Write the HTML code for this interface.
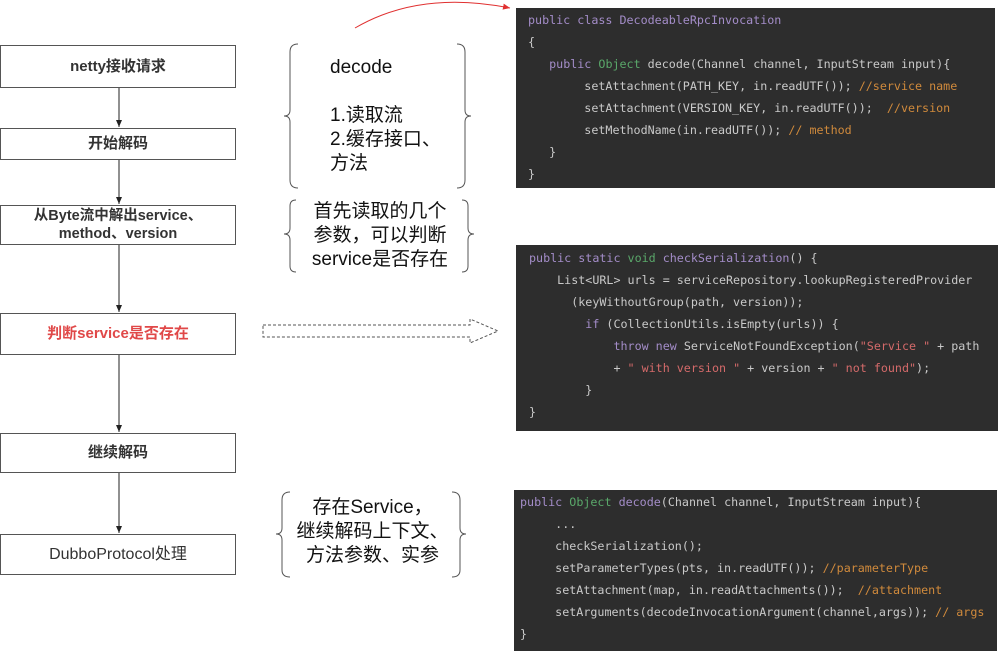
<!DOCTYPE html>
<html><head><meta charset="utf-8"><style>
body{margin:0;width:1000px;height:653px;background:#fff;position:relative;overflow:hidden;font-family:"Liberation Sans","Noto Sans CJK SC",sans-serif}
.box{position:absolute;left:0;width:236px;border:1px solid #555;box-sizing:border-box;display:flex;align-items:center;justify-content:center;text-align:center;font-size:15px;font-weight:bold;color:#333;line-height:18px;background:#fff}
.code{position:absolute;background:#2d2d2d;font-family:"DejaVu Sans Mono","Liberation Mono",monospace;font-size:11.7px;color:#c9c9c9;white-space:pre;line-height:22px;box-sizing:border-box;overflow:hidden}
.k{color:#a48dc9}.g{color:#5aa86a}.o{color:#d08a3c}.s{color:#d46a6a}
.t{position:absolute;font-size:19px;color:#111;line-height:24px}
</style></head><body>
<svg width="1000" height="653" style="position:absolute;left:0;top:0">
<defs><marker id="a" markerWidth="8" markerHeight="8" refX="7" refY="4" orient="auto"><path d="M0,1 L7,4 L0,7 Z" fill="#222"/></marker>
<marker id="r" markerWidth="8" markerHeight="8" refX="7" refY="4" orient="auto"><path d="M0,1 L7,4 L0,7 Z" fill="#e03030"/></marker></defs>
<g stroke="#222" stroke-width="1" marker-end="url(#a)">
<line x1="119" y1="88" x2="119" y2="127"/><line x1="119" y1="160" x2="119" y2="204"/>
<line x1="119" y1="245" x2="119" y2="312"/><line x1="119" y1="355" x2="119" y2="432"/>
<line x1="119" y1="473" x2="119" y2="533"/></g>
<path d="M355,28 Q420,-10 510,8" stroke="#e03030" fill="none" stroke-width="1" marker-end="url(#r)"/>
<path d="M263,325 H470 V319 L498,331 L470,343 V337 H263 Z" fill="none" stroke="#555" stroke-dasharray="3,2"/>
<g stroke="#555" fill="none" stroke-width="1">
<path d="M298,44 Q290,44 290,52 V110 Q290,116 284,116 Q290,116 290,122 V180 Q290,188 298,188"/>
<path d="M457,44 Q465,44 465,52 V110 Q465,116 471,116 Q465,116 465,122 V180 Q465,188 457,188"/>
<path d="M296,200 Q290,200 290,206 V228 Q290,234 284,234 Q290,234 290,240 V266 Q290,272 296,272"/>
<path d="M462,200 Q468,200 468,206 V228 Q468,234 474,234 Q468,234 468,240 V266 Q468,272 462,272"/>
<path d="M290,492 Q282,492 282,500 V528 Q282,534 276,534 Q282,534 282,540 V570 Q282,577 290,577"/>
<path d="M452,492 Q460,492 460,500 V528 Q460,534 466,534 Q460,534 460,540 V570 Q460,577 452,577"/>
</g></svg>
<div class="box" style="top:45px;height:43px">netty接收请求</div>
<div class="box" style="top:128px;height:32px">开始解码</div>
<div class="box" style="top:205px;height:40px;font-size:14.5px">从Byte流中解出service、<br>method、version</div>
<div class="box" style="top:313px;height:42px;color:#e04848">判断service是否存在</div>
<div class="box" style="top:433px;height:40px">继续解码</div>
<div class="box" style="top:534px;height:41px;font-weight:normal;font-size:16px">DubboProtocol处理</div>
<div class="t" style="left:330px;top:56px">decode</div>
<div class="t" style="left:330px;top:104px">1.读取流<br>2.缓存接口、<br>方法</div>
<div class="t" style="left:300px;top:200px;width:160px;text-align:center">首先读取的几个<br>参数，可以判断<br>service是否存在</div>
<div class="t" style="left:290px;top:496px;width:165px;text-align:center">存在Service，<br>继续解码上下文、<br>方法参数、实参</div>
<div class="code" style="left:516px;top:8px;width:479px;height:180px;padding:1px 0 0 12px"><span class="k">public class DecodeableRpcInvocation</span>
{
   <span class="k">public</span> <span class="g">Object</span> decode(Channel channel, InputStream input){
        setAttachment(PATH_KEY, in.readUTF()); <span class="o">//service name</span>
        setAttachment(VERSION_KEY, in.readUTF());  <span class="o">//version</span>
        setMethodName(in.readUTF()); <span class="o">// method</span>
   }
}</div>
<div class="code" style="left:516px;top:245px;width:482px;height:186px;padding:2px 0 0 13px"><span class="k">public static</span> <span class="g">void</span> <span class="k">checkSerialization</span>() {
    List&lt;URL&gt; urls = serviceRepository.lookupRegisteredProvider
      (keyWithoutGroup(path, version));
        <span class="k">if</span> (CollectionUtils.isEmpty(urls)) {
            <span class="k">throw new</span> ServiceNotFoundException(<span class="s">"Service "</span> + path
            + <span class="s">" with version "</span> + version + <span class="s">" not found"</span>);
        }
}</div>
<div class="code" style="left:514px;top:490px;width:483px;height:161px;padding:1px 0 0 6px"><span class="k">public</span> <span class="g">Object</span> <span class="k">decode</span>(Channel channel, InputStream input){
     ...
     checkSerialization();
     setParameterTypes(pts, in.readUTF()); <span class="o">//parameterType</span>
     setAttachment(map, in.readAttachments());  <span class="o">//attachment</span>
     setArguments(decodeInvocationArgument(channel,args)); <span class="o">// args</span>
}</div>
</body></html>
